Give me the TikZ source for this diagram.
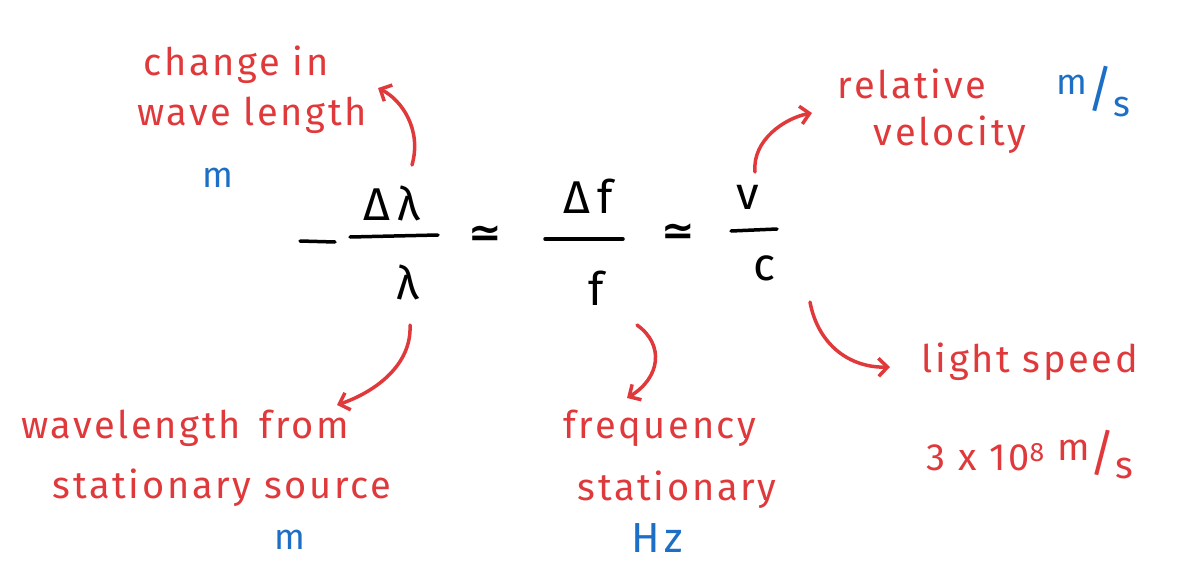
\documentclass[tikz,border=0pt]{standalone}
\usepackage{fontspec}
\setmainfont{Fira Sans}
\newfontfamily\symfont{DejaVu Sans}
\usetikzlibrary{arrows.meta}
\definecolor{hred}{HTML}{E0393B}
\definecolor{hblue}{HTML}{1C6FC4}
\tikzset{
  lbl/.style={text=hred, font=\fontsize{38}{44}\selectfont\addfontfeature{LetterSpace=7}, inner sep=0pt, anchor=center},
  unit/.style={text=hblue, font=\fontsize{36}{40}\selectfont\addfontfeature{LetterSpace=8}, inner sep=0pt},
  eq/.style={text=black, font=\fontsize{46}{46}\selectfont, inner sep=0pt},
  simb/.style={text=black, font=\symfont\bfseries\fontsize{40}{40}\selectfont, inner sep=0pt},
  bar/.style={draw=black, line width=3.5pt, line cap=round},
  harrow/.style={draw=hred, line width=3.5pt, line cap=round, -{Straight Barb[length=9pt,width=18pt,line width=3.5pt]}}
}
\newcommand{\bigslash}{{\fontsize{50}{50}\selectfont /}}
\begin{document}
\begin{tikzpicture}[x=1pt,y=-1pt]
\useasboundingbox (0,0) rectangle (1198,581);
% equation
\coordinate (m1) at (300,241); \coordinate (m2) at (335,242);
\draw[bar] (m1) -- (m2);
\node[eq] (num1) at (392,203) {Δ\,λ};
\node[eq] (den1) at (408,282) {λ};
\node[simb] (sim1) at (485,236) {≃};
\node[eq] (num2) at (588,196) {Δ\,f};
\node[eq] (den2) at (596,288) {f};
\node[simb] (sim2) at (678,234) {≃};
\node[eq] (num3) at (748,197) {v};
\node[eq] (den3) at (764,268) {c};
\coordinate (b1l) at (350,237); \coordinate (b1r) at (438,235);
\coordinate (b2l) at (545,239); \coordinate (b2r) at (623,239);
\coordinate (b3l) at (731,231); \coordinate (b3r) at (777,229);
\draw[bar] (b1l) -- (b1r);
\draw[bar] (b2l) -- (b2r);
\draw[bar] (b3l) -- (b3r);
% labels
\node[lbl] (l1a) at (236,65) {change in};
\node[lbl] (l1b) at (252,115) {wave length};
\node[unit] (u1) at (218,178) {m};
\node[lbl] (l2a) at (912,84) {relative};
\node[lbl] (l2b) at (950,135) {velocity};
\node[unit] (u2) at (1093,92) {\raisebox{12pt}{m}\bigslash\raisebox{-10pt}{s}};
\node[lbl] (l3a) at (185,428) {wavelength\enspace from};
\node[lbl] (l3b) at (222,488) {stationary source};
\node[unit] (u3) at (290,540) {m};
\node[lbl] (l4a) at (660,428) {frequency};
\node[lbl] (l4b) at (677,490) {stationary};
\node[unit, font=\fontsize{42}{44}\selectfont\addfontfeature{LetterSpace=12}] (u4) at (657,538) {Hz};
\node[lbl] (l5a) at (1030,362) {light speed};
\node[lbl] (l5b) at (1030,455) {3 x 10\textsuperscript{8} \raisebox{10pt}{m}\bigslash\raisebox{-8pt}{s}};
% arrows
\coordinate (a1s) at (412,165); \coordinate (a1e) at (378,88);
\coordinate (a2s) at (755,172); \coordinate (a2e) at (812,113);
\coordinate (a3s) at (410,325); \coordinate (a3e) at (337,405);
\coordinate (a4s) at (637,325); \coordinate (a4e) at (627,398);
\coordinate (a5s) at (810,302); \coordinate (a5e) at (890,367);
\draw[harrow] (a1s) .. controls (422,130) and (402,100) .. (a1e);
\draw[harrow] (a2s) .. controls (752,140) and (785,118) .. (a2e);
\draw[harrow] (a3s) .. controls (412,365) and (375,392) .. (a3e);
\draw[harrow] (a4s) .. controls (665,345) and (660,378) .. (a4e);
\draw[harrow] (a5s) .. controls (818,345) and (850,368) .. (a5e);
\end{tikzpicture}
\end{document}
